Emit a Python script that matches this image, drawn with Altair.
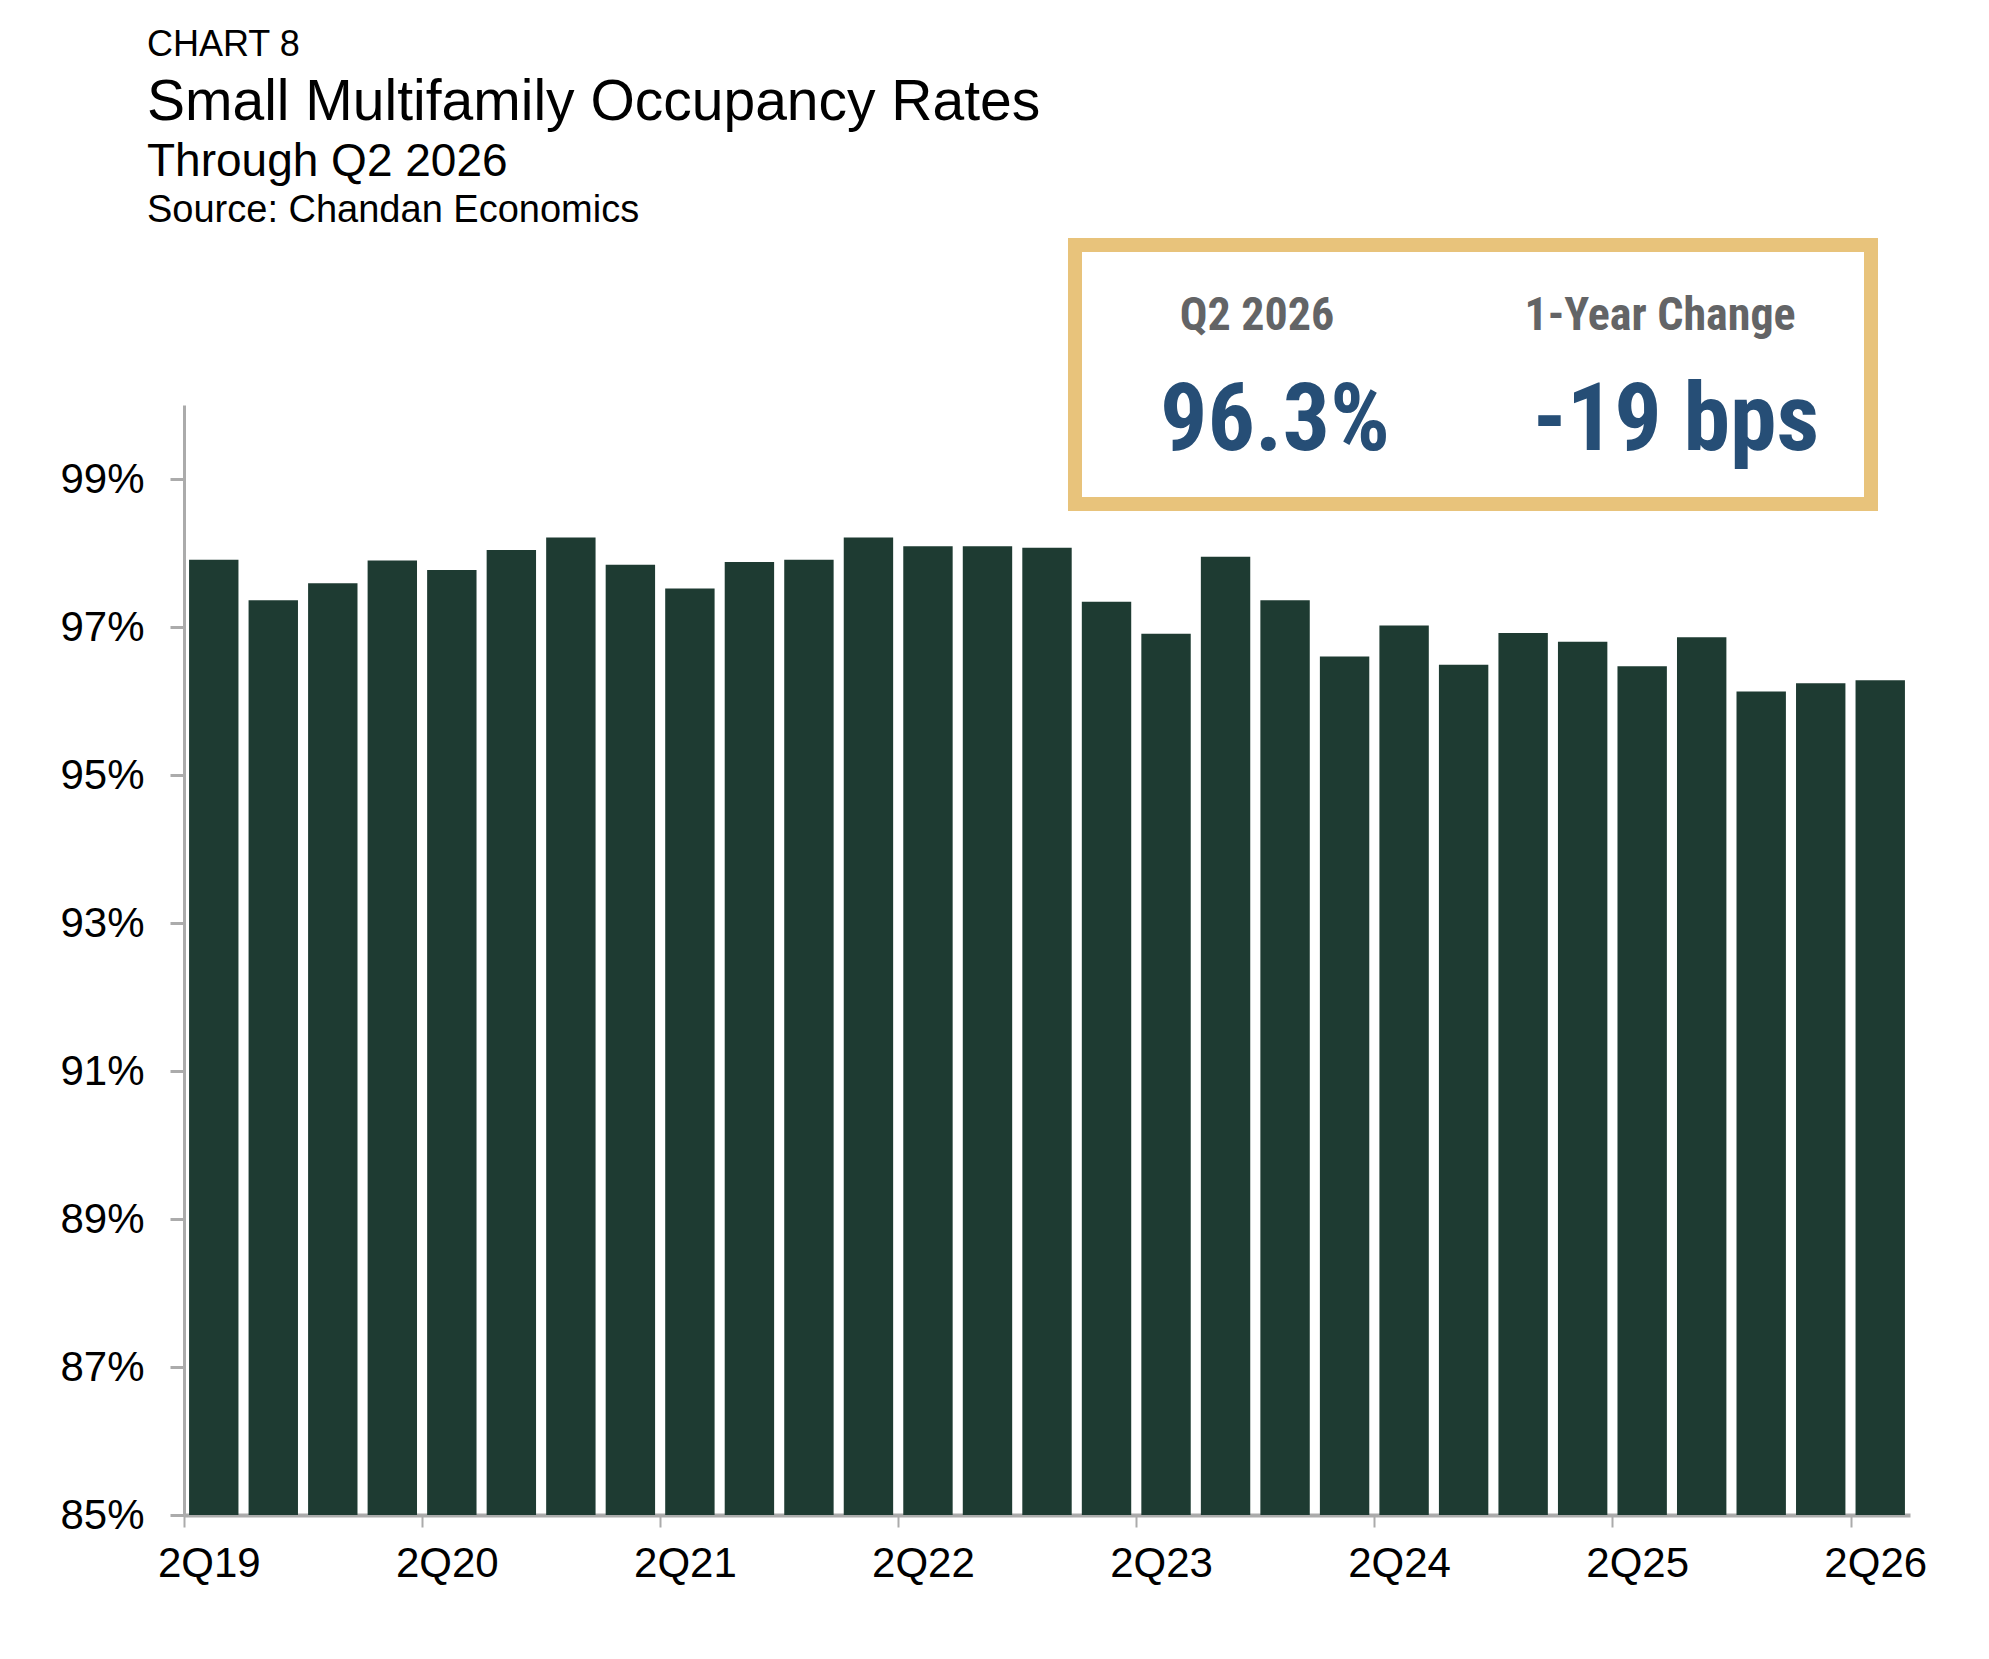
import altair as alt
import pandas as pd

quarters = ["2Q19", "3Q19", "4Q19", "1Q20", "2Q20", "3Q20", "4Q20", "1Q21", "2Q21", "3Q21",
            "4Q21", "1Q22", "2Q22", "3Q22", "4Q22", "1Q23", "2Q23", "3Q23", "4Q23", "1Q24",
            "2Q24", "3Q24", "4Q24", "1Q25", "2Q25", "3Q25", "4Q25", "1Q26", "2Q26"]
occupancy = [97.91, 97.36, 97.59, 97.90, 97.77, 98.04, 98.21, 97.84, 97.52, 97.88,
             97.91, 98.21, 98.09, 98.09, 98.07, 97.34, 96.91, 97.95, 97.36, 96.60,
             97.02, 96.49, 96.92, 96.80, 96.47, 96.86, 96.13, 96.24, 96.28]
x_tick_labels = ["2Q19", "2Q20", "2Q21", "2Q22", "2Q23", "2Q24", "2Q25", "2Q26"]
y_ticks = [85, 87, 89, 91, 93, 95, 97, 99]

header_kicker = "CHART 8"
header_title = "Small Multifamily Occupancy Rates"
header_sub = "Through Q2 2026"
header_source = "Source: Chandan Economics"
kpi_labels = ["Q2 2026", "1-Year Change"]
kpi_values = ["96.3%", "-19 bps"]

BAR = "#1E3B32"
GOLD = "#E8C37B"
AXIS_GRAY = "#ABABAB"
KPI_GRAY = "#636466"
KPI_BLUE = "#264E76"
FONT = "Liberation Sans"
NARROW = "Liberation Sans Narrow, Roboto Condensed, Liberation Sans"

df = pd.DataFrame({"quarter": quarters, "occ": occupancy})

bars = alt.Chart(df).mark_bar(color=BAR).encode(
    x=alt.X("quarter:N", sort=quarters, title=None,
            scale=alt.Scale(paddingInner=0.17, paddingOuter=0.085),
            axis=alt.Axis(values=x_tick_labels, labelAngle=0, bandPosition=0, tickOffset=-5,
                          labelFont=FONT, labelFontSize=42, labelColor="#000000",
                          labelPadding=16, tickSize=12, tickWidth=2, tickColor=AXIS_GRAY,
                          domainColor=AXIS_GRAY, domainWidth=4, grid=False)),
    y=alt.Y("occ:Q", title=None,
            scale=alt.Scale(domain=[85, 100], nice=False, zero=False),
            axis=alt.Axis(values=y_ticks, labelExpr="datum.value + '%'",
                          labelFont=FONT, labelFontSize=42, labelColor="#000000",
                          labelPadding=26, tickSize=14, tickWidth=3, tickColor=AXIS_GRAY,
                          domainColor=AXIS_GRAY, domainWidth=3, grid=False)),
    y2=alt.datum(85),
)

one = alt.Data(values=[{}])

def txt(text, x, y, size, color="#000000", font=FONT, weight="normal", align="left"):
    return alt.Chart(one).mark_text(
        text=text, font=font, fontSize=size, fontWeight=weight, color=color,
        align=align, baseline="alphabetic"
    ).encode(x=alt.value(x), y=alt.value(y))

box = alt.Chart(one).mark_rect(fill="white", stroke=GOLD, strokeWidth=14).encode(
    x=alt.value(891), x2=alt.value(1687), y=alt.value(-160), y2=alt.value(99)
)

layers = [
    bars,
    box,
    txt(header_kicker, -37, -349, 36),
    txt(header_title, -37, -285, 57),
    txt(header_sub, -37, -229, 46),
    txt(header_source, -37, -183, 38),
    txt(kpi_labels[0], 1073, -75, 46, KPI_GRAY, NARROW, "bold", "center"),
    txt(kpi_labels[1], 1476, -75, 46, KPI_GRAY, NARROW, "bold", "center"),
    txt(kpi_values[0], 1091, 45, 94, KPI_BLUE, NARROW, "bold", "center"),
    txt(kpi_values[1], 1492, 45, 94, KPI_BLUE, NARROW, "bold", "center"),
]

chart = alt.layer(*layers).properties(
    width=1726, height=1110,
    padding={"left": 176, "top": 397, "right": 70, "bottom": 130},
    autosize="none",
    background="white",
).configure_view(stroke=None)

chart.save("out.html", embed_options={"renderer": "svg", "actions": False})
